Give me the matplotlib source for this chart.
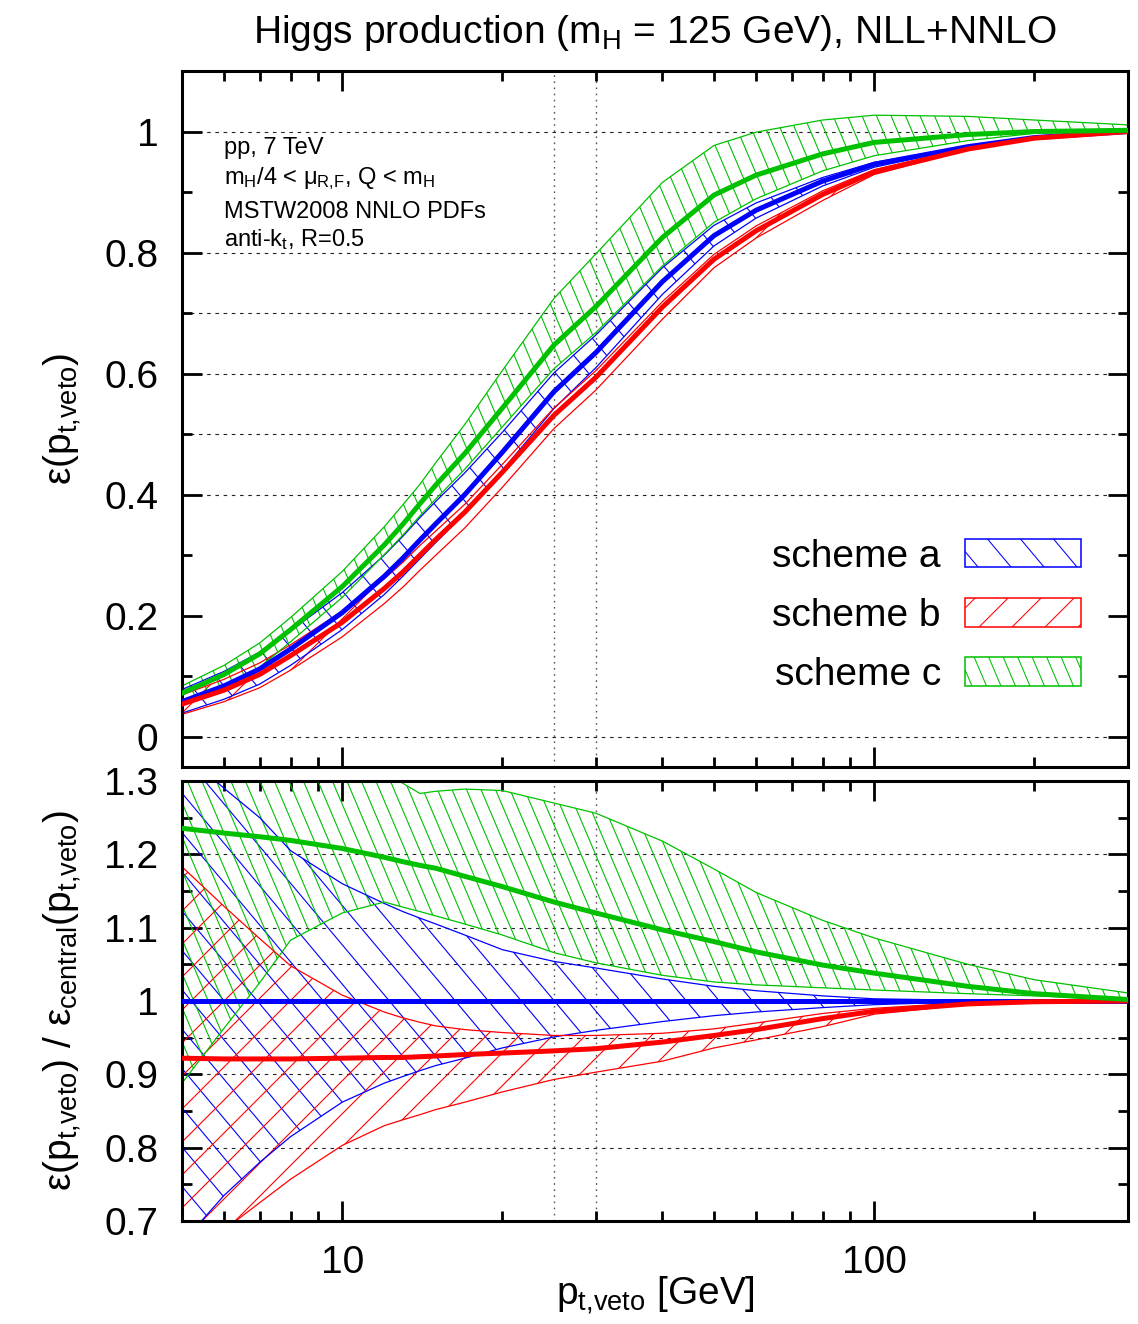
import numpy as np
import matplotlib
matplotlib.use('Agg')
import matplotlib.pyplot as plt
from matplotlib.patches import Polygon, Rectangle, Patch
from matplotlib.collections import LineCollection
from matplotlib.transforms import IdentityTransform
from matplotlib.legend_handler import HandlerBase
from matplotlib.ticker import FixedLocator, FuncFormatter, NullFormatter

plt.rcParams['font.family'] = ['Liberation Sans', 'DejaVu Sans']
plt.rcParams['mathtext.fontset'] = 'custom'
plt.rcParams['mathtext.rm'] = 'Liberation Sans'
plt.rcParams['mathtext.it'] = 'Liberation Sans:italic'
plt.rcParams['mathtext.bf'] = 'Liberation Sans:bold'
plt.rcParams['mathtext.default'] = 'regular'

# ---------------- data ----------------
pt_veto = [5, 6, 7, 8, 10, 12, 13, 14, 15, 17, 20, 25, 30, 40, 50, 60, 80, 100, 150, 200, 300]

# top panel: jet-veto efficiency
eff_a_central = [0.058, 0.084, 0.112, 0.145, 0.205, 0.265, 0.295, 0.325, 0.352, 0.400, 0.470, 0.570, 0.635, 0.752, 0.828, 0.870, 0.918, 0.946, 0.975, 0.990, 1.000]
eff_a_upper = [0.078, 0.108, 0.140, 0.175, 0.238, 0.300, 0.331, 0.362, 0.389, 0.436, 0.503, 0.601, 0.664, 0.775, 0.845, 0.882, 0.924, 0.949, 0.976, 0.990, 1.000]
eff_a_lower = [0.039, 0.062, 0.087, 0.118, 0.177, 0.235, 0.265, 0.294, 0.321, 0.369, 0.440, 0.542, 0.610, 0.731, 0.811, 0.857, 0.910, 0.941, 0.974, 0.990, 1.000]
eff_b_central = [0.054, 0.077, 0.103, 0.134, 0.189, 0.245, 0.272, 0.300, 0.326, 0.371, 0.437, 0.531, 0.594, 0.710, 0.789, 0.836, 0.896, 0.933, 0.971, 0.989, 1.000]
eff_b_upper = [0.069, 0.095, 0.122, 0.152, 0.207, 0.261, 0.288, 0.316, 0.340, 0.384, 0.450, 0.543, 0.605, 0.719, 0.797, 0.844, 0.902, 0.937, 0.973, 0.990, 1.000]
eff_b_lower = [0.037, 0.058, 0.081, 0.110, 0.165, 0.220, 0.247, 0.275, 0.300, 0.345, 0.412, 0.509, 0.573, 0.690, 0.775, 0.824, 0.886, 0.929, 0.970, 0.989, 1.000]
eff_c_central = [0.072, 0.103, 0.137, 0.177, 0.248, 0.317, 0.351, 0.385, 0.416, 0.468, 0.543, 0.647, 0.711, 0.825, 0.895, 0.928, 0.963, 0.982, 0.995, 1.000, 1.002]
eff_c_upper = [0.084, 0.118, 0.155, 0.197, 0.273, 0.347, 0.383, 0.417, 0.453, 0.516, 0.605, 0.724, 0.798, 0.916, 0.977, 0.999, 1.019, 1.027, 1.025, 1.019, 1.011]
eff_c_lower = [0.052, 0.081, 0.115, 0.157, 0.230, 0.301, 0.333, 0.365, 0.393, 0.442, 0.512, 0.608, 0.668, 0.778, 0.850, 0.889, 0.935, 0.960, 0.985, 0.997, 1.002]

# bottom panel: ratio to scheme-a central efficiency
ratio_a_central = [1.0] * 21
ratio_a_upper = [1.34, 1.29, 1.25, 1.205, 1.16, 1.133, 1.122, 1.113, 1.105, 1.09, 1.07, 1.054, 1.045, 1.03, 1.02, 1.014, 1.007, 1.003, 1.001, 1.0, 1.0]
ratio_a_lower = [0.67, 0.735, 0.78, 0.815, 0.862, 0.888, 0.897, 0.905, 0.912, 0.922, 0.936, 0.951, 0.96, 0.972, 0.98, 0.985, 0.991, 0.995, 0.999, 1.0, 1.0]
ratio_b_central = [0.922, 0.921, 0.921, 0.921, 0.922, 0.923, 0.923, 0.924, 0.925, 0.927, 0.929, 0.932, 0.935, 0.944, 0.953, 0.961, 0.976, 0.986, 0.996, 0.999, 1.0]
ratio_b_upper = [1.183, 1.129, 1.085, 1.048, 1.008, 0.985, 0.977, 0.971, 0.966, 0.961, 0.957, 0.953, 0.953, 0.956, 0.962, 0.97, 0.983, 0.99, 0.998, 1.0, 1.0]
ratio_b_lower = [0.645, 0.688, 0.725, 0.757, 0.803, 0.83, 0.838, 0.845, 0.852, 0.862, 0.876, 0.893, 0.903, 0.918, 0.936, 0.947, 0.965, 0.982, 0.995, 0.999, 1.0]
ratio_c_central = [1.2355, 1.229, 1.224, 1.219, 1.208, 1.196, 1.19, 1.185, 1.181, 1.17, 1.156, 1.135, 1.12, 1.097, 1.081, 1.067, 1.049, 1.038, 1.02, 1.01, 1.002]
ratio_c_upper = [1.45, 1.41, 1.38, 1.36, 1.33, 1.31, 1.297, 1.283, 1.286, 1.289, 1.287, 1.27, 1.256, 1.218, 1.18, 1.148, 1.11, 1.086, 1.05, 1.029, 1.011]
ratio_c_lower = [0.888, 0.963, 1.025, 1.083, 1.12, 1.135, 1.128, 1.122, 1.116, 1.105, 1.09, 1.066, 1.052, 1.035, 1.026, 1.022, 1.018, 1.015, 1.01, 1.007, 1.002]

scheme_labels = ['scheme a', 'scheme b', 'scheme c']
x_major_ticks = [10, 100]
x_minor_ticks = [5, 6, 7, 8, 9, 20, 30, 40, 50, 60, 70, 80, 90, 200, 300]
top_y_major = [0, 0.2, 0.4, 0.6, 0.8, 1.0]
top_y_minor = [0.1, 0.3, 0.5, 0.7, 0.9]
bot_y_major = [0.7, 0.8, 0.9, 1.0, 1.1, 1.2, 1.3]
bot_y_minor = [0.75, 0.85, 0.95, 1.05, 1.15, 1.25]
top_hgrid = [0.0, 0.4, 0.5, 0.6, 0.7, 0.8, 1.0]
bot_hgrid = [0.8, 0.9, 0.95, 1.0, 1.05, 1.1, 1.2]
vgrid = [25, 30]
annotation_lines = ['pp, 7 TeV', 'm$_H$/4 < μ$_{R{,}F}$, Q < m$_H$',
                    'MSTW2008 NNLO PDFs', 'anti-k$_t$, R=0.5']

# ---------------- style ----------------
BLUE, RED, GREEN = '#0000ff', '#ff0000', '#00c000'
# (color, hatch angle in degrees, horizontal hatch spacing in px)
styles = {'a': (BLUE, -50, 33), 'b': (RED, 45, 33), 'c': (GREEN, -67, 14.5)}

W, H = 1138, 1324
fig = plt.figure(figsize=(W / 100, H / 100), dpi=100)
ax1 = fig.add_axes([182 / W, 1 - 767 / H, 946 / W, 696 / H])
ax2 = fig.add_axes([182 / W, 1 - 1221 / H, 946 / W, 440 / H])
for ax in (ax1, ax2):
    ax.set_xscale('log')
    ax.set_xlim(5, 300)
ax1.set_ylim(-0.05, 1.1)
ax2.set_ylim(0.7, 1.3)


def add_hatch(ax, clip_patch, angle, hspacing, color, lw=0.8, zorder=2):
    th = np.deg2rad(angle)
    d = np.array([np.cos(th), np.sin(th)])
    n = np.array([-np.sin(th), np.cos(th)])
    perp = hspacing * abs(np.sin(th))
    Wp, Hp = fig.bbox.width, fig.bbox.height
    diag = np.hypot(Wp, Hp)
    c = np.array([Wp / 2, Hp / 2])
    segs = [np.array([c + o * n - diag * d, c + o * n + diag * d])
            for o in np.arange(-diag, diag, perp)]
    lc = LineCollection(segs, colors=[color], linewidths=lw,
                        transform=IdentityTransform(), zorder=zorder)
    lc.set_clip_box(ax.bbox)
    lc.set_clip_path(clip_patch)
    ax.add_collection(lc, autolim=False)


def band(ax, x, lo, hi, key):
    color, angle, hsp = styles[key]
    verts = list(zip(x, lo)) + list(zip(x[::-1], hi[::-1]))
    poly = Polygon(verts, closed=True, facecolor='none', edgecolor='none',
                   transform=ax.transData)
    ax.add_patch(poly)
    add_hatch(ax, poly, angle, hsp, color)
    ax.plot(x, lo, color=color, lw=0.9, zorder=2.1)
    ax.plot(x, hi, color=color, lw=0.9, zorder=2.1)


# grids
for ax, hg in ((ax1, top_hgrid), (ax2, bot_hgrid)):
    for v in hg:
        ax.axhline(v, color='#222222', lw=0.8, ls=(0, (3.2, 4.2)), zorder=1)
    for v in vgrid:
        ax.axvline(v, color='#555555', lw=1.0, ls=(0, (1.2, 3.2)), zorder=1)

# top panel
band(ax1, pt_veto, eff_a_lower, eff_a_upper, 'a')
band(ax1, pt_veto, eff_b_lower, eff_b_upper, 'b')
band(ax1, pt_veto, eff_c_lower, eff_c_upper, 'c')
ax1.plot(pt_veto, eff_a_central, color=BLUE, lw=3.6, zorder=3)
ax1.plot(pt_veto, eff_b_central, color=RED, lw=3.6, zorder=3)
ax1.plot(pt_veto, eff_c_central, color=GREEN, lw=3.6, zorder=3)

# bottom panel
band(ax2, pt_veto, ratio_a_lower, ratio_a_upper, 'a')
band(ax2, pt_veto, ratio_b_lower, ratio_b_upper, 'b')
band(ax2, pt_veto, ratio_c_lower, ratio_c_upper, 'c')
ax2.plot(pt_veto, ratio_a_central, color=BLUE, lw=3.6, zorder=3)
ax2.plot(pt_veto, ratio_b_central, color=RED, lw=3.6, zorder=3)
ax2.plot(pt_veto, ratio_c_central, color=GREEN, lw=3.6, zorder=3)

# axes styling
fmt = FuncFormatter(lambda v, p: '%g' % v)
for ax, ymaj, ymin in ((ax1, top_y_major, top_y_minor), (ax2, bot_y_major, bot_y_minor)):
    ax.xaxis.set_major_locator(FixedLocator(x_major_ticks))
    ax.xaxis.set_minor_locator(FixedLocator(x_minor_ticks))
    ax.xaxis.set_major_formatter(fmt)
    ax.xaxis.set_minor_formatter(NullFormatter())
    ax.yaxis.set_major_locator(FixedLocator(ymaj))
    ax.yaxis.set_minor_locator(FixedLocator(ymin))
    ax.yaxis.set_major_formatter(fmt)
    ax.tick_params(which='both', direction='in', top=True, right=True,
                   width=2.0, labelsize=28, color='black')
    ax.tick_params(which='major', length=14.5)
    ax.tick_params(which='minor', length=7.2)
    ax.tick_params(axis='y', pad=17)
    ax.tick_params(axis='x', pad=17)
    for s in ax.spines.values():
        s.set_linewidth(2.2)
ax1.tick_params(labelbottom=False)

ax1.set_title('Higgs production (m$_H$ = 125 GeV), NLL+NNLO', fontsize=28, pad=20)
ax1.set_ylabel('ε(p$_{t{,}veto}$)', fontsize=28)
ax2.set_ylabel('ε(p$_{t{,}veto}$) / ε$_{central}$(p$_{t{,}veto}$)', fontsize=28)
ax1.yaxis.set_label_coords(-0.105, 0.5)
ax2.yaxis.set_label_coords(-0.105, 0.5)
ax2.set_xlabel('p$_{t{,}veto}$ [GeV]', fontsize=28)
ax2.xaxis.set_label_coords(0.5, -0.12)

# annotation
ann_y = [0.8807, 0.8376, 0.7888, 0.7486]
for txt, yy in zip(annotation_lines, ann_y):
    ax1.text(0.0444, yy, txt, transform=ax1.transAxes, fontsize=17,
             va='baseline', ha='left', zorder=5)


# legend with custom hatched boxes
class BandHandler(HandlerBase):
    def __init__(self, color, angle, hspacing):
        super().__init__()
        self.color, self.angle, self.hspacing = color, angle, hspacing

    def create_artists(self, legend, orig_handle, xdescent, ydescent,
                       width, height, fontsize, trans):
        x0, y0 = -xdescent, -ydescent
        rect = Rectangle((x0, y0), width, height, facecolor='none',
                         edgecolor=self.color, lw=1.1, transform=trans)
        th = np.deg2rad(self.angle)
        d = np.array([np.cos(th), np.sin(th)])
        n = np.array([-np.sin(th), np.cos(th)])
        perp = self.hspacing * 0.72 * abs(np.sin(th))
        c = np.array([x0 + width / 2, y0 + height / 2])
        R = np.hypot(width, height)
        segs = [np.array([c + o * n - R * d, c + o * n + R * d])
                for o in np.arange(-R, R, perp)]
        lc = LineCollection(segs, colors=[self.color], linewidths=0.75,
                            transform=trans)
        lc.set_clip_path(rect)
        return [lc, rect]


handles = [Patch(facecolor='none', edgecolor=styles[k][0], label=l)
           for k, l in zip('abc', scheme_labels)]
hmap = {h: BandHandler(*styles[k]) for h, k in zip(handles, 'abc')}
ax1.legend(handles=handles, labels=scheme_labels, handler_map=hmap,
           loc='lower right', bbox_to_anchor=(0.9503, 0.106), frameon=False,
           fontsize=28, markerfirst=False, handlelength=2.98, handleheight=0.75,
           handletextpad=0.62, labelspacing=0.6, borderpad=0, borderaxespad=0)

fig.savefig('out.png', dpi=100)
